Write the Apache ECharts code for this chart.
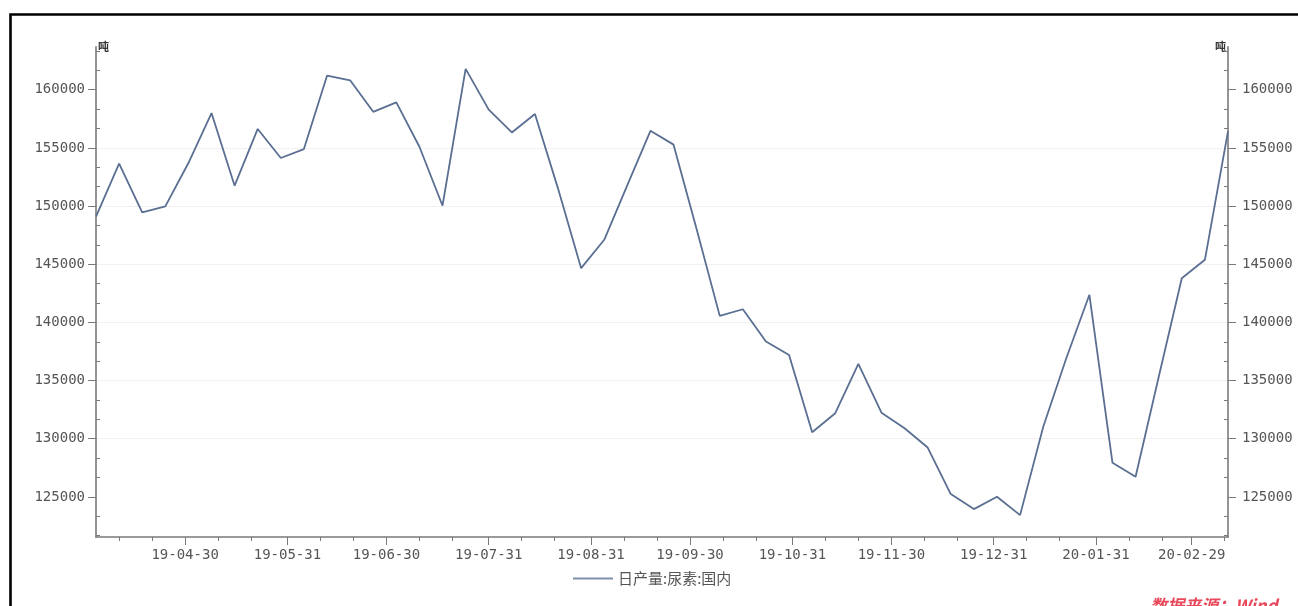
<!DOCTYPE html>
<html>
<head>
<meta charset="utf-8">
<script src="https://cdn.jsdelivr.net/npm/echarts@6/dist/echarts.min.js"></script>
<style>
html,body{margin:0;padding:0;background:#fff;}
#chart{width:1298px;height:606px;}
</style>
</head>
<body>
<div id="chart"></div>
<script>
// weekly observation dates
var dates = [
  '2019-04-03','2019-04-10','2019-04-17','2019-04-24','2019-05-01','2019-05-08','2019-05-15','2019-05-22','2019-05-29',
  '2019-06-05','2019-06-12','2019-06-19','2019-06-26','2019-07-03','2019-07-10','2019-07-17','2019-07-24','2019-07-31',
  '2019-08-07','2019-08-14','2019-08-21','2019-08-28','2019-09-04','2019-09-11','2019-09-18','2019-09-25',
  '2019-10-02','2019-10-09','2019-10-16','2019-10-23','2019-10-30','2019-11-06','2019-11-13','2019-11-20','2019-11-27',
  '2019-12-04','2019-12-11','2019-12-18','2019-12-25','2020-01-01','2020-01-08','2020-01-15','2020-01-22','2020-01-29',
  '2020-02-05','2020-02-12','2020-02-19','2020-02-26','2020-03-04','2020-03-11'
];
// 日产量:尿素:国内 (吨)
var values = [
  149100,153640,149450,149970,153700,158000,151750,156630,154130,
  154900,161210,160810,158100,158920,155100,150030,161790,158290,
  156330,157920,151500,144660,147100,151800,156470,155280,
  148000,140560,141130,138350,137200,130550,132190,136430,132240,
  130900,129240,125240,123950,125010,123430,131000,136920,142370,
  127930,126730,135300,143800,145380,156420
];
var seriesName = '日产量:尿素:国内';
var unitName = '吨';
// x-axis labels (month ends)
var xLabelDates = ['2019-04-30','2019-05-31','2019-06-30','2019-07-31','2019-08-31','2019-09-30',
  '2019-10-31','2019-11-30','2019-12-31','2020-01-31','2020-02-29'];
// y-axis tick labels
var yLabels = [125000,130000,135000,140000,145000,150000,155000,160000];
var yMin = 121550, yMax = 163700;
var xMin = '2019-04-03', xMax = '2020-03-11';

function ts(s){var p=s.split('-');return Date.UTC(+p[0],+p[1]-1,+p[2]);}
function pad(n){return (n<10?'0':'')+n;}
function fmtDate(val){
  var d = new Date(val);
  return String(d.getUTCFullYear()).slice(2) + '-' + pad(d.getUTCMonth()+1) + '-' + pad(d.getUTCDate());
}

// minor ticks (10th and 20th of each month)
var xMinorTicks = [];
for (var m = 0; m < 12; m++) {
  var y = 2019 + Math.floor((3 + m) / 12);
  var mo = ((3 + m) % 12);
  xMinorTicks.push(Date.UTC(y, mo, 10));
  xMinorTicks.push(Date.UTC(y, mo, 20));
}
var yMinorTicks = [];
for (var k = -2; k <= 24; k++) {
  var v = 125000 + k * 5000 / 3;
  if (v > yMin && v < yMax && k % 3 !== 0) yMinorTicks.push(v);
}
var xLabelTs = xLabelDates.map(ts);

var labelFont = {color:'#555', fontSize:14, fontFamily:'DejaVu Sans Mono'};
var axisLineStyle = {color:'#7a7a7a', width:1.6};

function mainY(pos){
  return {
    type:'value', position:pos, min:yMin, max:yMax, splitNumber:8,
    name: unitName, nameLocation:'end', nameGap:-6,
    nameTextStyle:{color:'#333', fontSize:11, fontWeight:'bold', fontFamily:'Noto Sans CJK SC',
      align: pos==='left' ? 'left' : 'right', padding: pos==='left' ? [0,0,0,2] : [0,2,0,0]},
    axisLine:{show:true, lineStyle:axisLineStyle},
    axisTick:{show:true, inside:false, length:8, customValues:yLabels, lineStyle:{color:'#7a7a7a'}},
    axisLabel:Object.assign({show:true, margin: pos==='left' ? 11 : 14, customValues:yLabels, formatter:function(v){return String(Math.round(v));}}, labelFont),
    splitLine: pos==='left' ? {show:true, showMinLine:false, showMaxLine:false, lineStyle:{color:'#f1f1f1', width:1}} : {show:false}
  };
}
function minorY(pos){
  return {
    type:'value', position:pos, min:yMin, max:yMax,
    axisLine:{show:false},
    axisTick:{show:true, inside:true, length:4, customValues:yMinorTicks, lineStyle:{color:'#7a7a7a'}},
    axisLabel:{show:false},
    splitLine:{show:false}
  };
}

var chart = echarts.init(document.getElementById('chart'), null, {renderer:'canvas'});
chart.setOption({
  backgroundColor:'#fff',
  animation:false,
  grid:{left:96, right:70, top:46.7, bottom:69, containLabel:false},
  legend:{
    left:568, top:566, itemWidth:40, itemHeight:2, itemGap:10, icon:'rect',
    textStyle:{color:'#555', fontSize:15, fontFamily:'Noto Sans CJK SC'},
    data:[seriesName]
  },
  xAxis:[{
    type:'value', min:ts(xMin), max:ts(xMax), position:'bottom', scale:true,
    axisLine:{show:true, onZero:false, lineStyle:axisLineStyle},
    axisTick:{show:true, length:8, customValues:xLabelTs, lineStyle:{color:'#7a7a7a'}},
    axisLabel:Object.assign({show:true, margin:11, customValues:xLabelTs, formatter:function(v){return fmtDate(v);}}, labelFont),
    splitLine:{show:false}
  },{
    type:'value', min:ts(xMin), max:ts(xMax), position:'bottom', scale:true,
    axisLine:{show:false, onZero:false},
    axisTick:{show:true, length:4, customValues:xMinorTicks, lineStyle:{color:'#7a7a7a'}},
    axisLabel:{show:false},
    splitLine:{show:false}
  }],
  yAxis:[mainY('left'), minorY('left'), mainY('right'), minorY('right')],
  series:[{
    name:seriesName, type:'line', xAxisIndex:0, yAxisIndex:0,
    symbol:'none', smooth:false,
    lineStyle:{color:'#5a6f91', width:1.8},
    itemStyle:{color:'#7d8fab'},
    data: dates.map(function(d,i){return [ts(d), values[i]];})
  }],
  graphic:[
    {type:'rect', left:8, top:12, shape:{x:0, y:0, width:1320, height:620},
     style:{fill:null, stroke:'#000', lineWidth:2.6}, silent:true, z:100},
    {type:'text', left:1150, top:597,
     style:{text:'数据来源：Wind', fill:'#e8485a', font:'italic bold 17px "Noto Sans CJK SC"'}, z:100}
  ]
});
</script>
</body>
</html>
